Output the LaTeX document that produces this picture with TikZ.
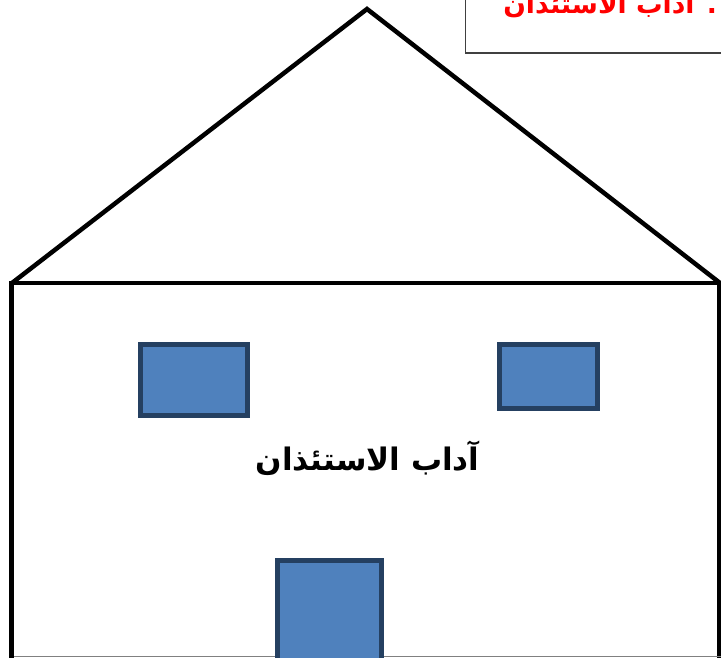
\documentclass[tikz,border=0pt]{standalone}
\usepackage{fontspec}
\newfontfamily\arabicfont[Script=Arabic]{DejaVu Sans}
\TeXXeTstate=1
\definecolor{winblue}{HTML}{4F81BD}
\definecolor{winedge}{HTML}{254061}
\begin{document}
\begin{tikzpicture}[x=1pt, y=-1pt,
    wall/.style={line width=4.5pt, black},
    pane/.style={fill=winblue, draw=winedge, line width=5pt},
  ]
  \useasboundingbox (0,0) rectangle (721,658);
  % roof
  \draw[wall, line join=miter] (12,283) -- (367,9) -- (720,283);
  % walls
  \draw[wall] (11.5,281) -- (11.5,660);
  \draw[wall] (719.5,281) -- (719.5,660);
  \draw[wall] (9,283) -- (722,283);
  \draw[gray, line width=1pt] (14,656.5) -- (721,656.5);
  % windows and door
  \draw[pane] (140.5,344.5) rectangle (247.5,415.5);
  \draw[pane] (499.5,344.5) rectangle (597.5,408.5);
  \draw[pane] (277.5,560.5) rectangle (381.5,664);
  % title box
  \draw[black!75, line width=1.5pt, fill=white] (465.5,-5) rectangle (730,53);
  \node[anchor=base east, text=red, inner sep=0pt,
        font=\arabicfont\bfseries\fontsize{26.5}{32}\selectfont] (title) at (717,14)
    {\beginR. آداب الاستئذان\endR};
  \node[anchor=base, inner sep=0pt,
        font=\arabicfont\bfseries\fontsize{31}{37}\selectfont] (label) at (367.5,470)
    {\beginR آداب الاستئذان\endR};
\end{tikzpicture}
\end{document}
